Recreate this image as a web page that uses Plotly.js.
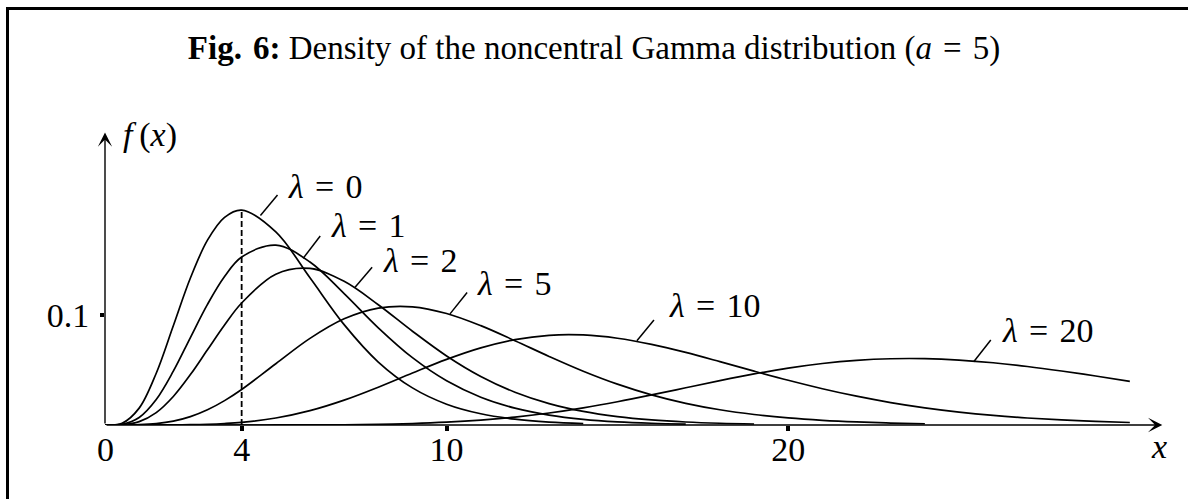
<!DOCTYPE html>
<html>
<head>
<meta charset="utf-8">
<script src="https://cdn.plot.ly/plotly-3.0.1.min.js"></script>
<style>
  html, body { margin: 0; padding: 0; background: #fff; }
  #frame { position: absolute; left: 6px; top: 7px; width: 1300px; height: 600px;
           border-top: 3px solid #000; border-left: 3px solid #000; pointer-events: none; z-index: 5; }
  #chart { position: absolute; left: 0; top: 0; width: 1188px; height: 499px; }
</style>
</head>
<body>
<div id="chart"></div>
<div id="frame"></div>
<script>
// Density f(x) of the noncentral Gamma distribution, shape a = 5,
// sampled on xGrid (half steps near the origin) for each noncentrality λ.
const xGrid = [0, 0.5, 1, 1.5, 2, 2.5, 3, 3.5, 4, 5, 6, 7, 8, 9, 10, 11, 12, 13, 14, 15,
  16, 17, 18, 19, 20, 21, 22, 23, 24, 25, 26, 27, 28, 29, 30];

const lam0 = [0, 0.00158, 0.01533, 0.04707, 0.09022, 0.13360, 0.16803, 0.18881, 0.19537,
  0.17547, 0.13385, 0.09123, 0.05725, 0.03374, 0.01892, 0.01019, 0.00531, 0.00269, 0.00133];
const lam1 = [0, 0.00064, 0.00687, 0.02321, 0.04891, 0.07950, 0.10963, 0.13491, 0.15268,
  0.16352, 0.14814, 0.11944, 0.08836, 0.06118, 0.04018, 0.02528, 0.01534, 0.00903, 0.00518,
  0.00290, 0.00160, 0.00086];
const lam2 = [0, 0.00026, 0.00306, 0.01130, 0.02594, 0.04580, 0.06841, 0.09094, 0.11093,
  0.13711, 0.14230, 0.13059, 0.10935, 0.08527, 0.06276, 0.04411, 0.02979, 0.01945, 0.01233,
  0.00762, 0.00461, 0.00273, 0.00159, 0.00091];
const lam5 = [0, 0.00002, 0.00026, 0.00123, 0.00351, 0.00762, 0.01385, 0.02217, 0.03229,
  0.05568, 0.07873, 0.09655, 0.10629, 0.10747, 0.10140, 0.09032, 0.07663, 0.06234, 0.04889,
  0.03713, 0.02740, 0.01970, 0.01385, 0.00953, 0.00643, 0.00426, 0.00278, 0.00179, 0.00113];
const lam10 = [0, 0, 0.000004, 0.000026, 0.00010, 0.00029, 0.00067, 0.00135, 0.00244,
  0.00634, 0.01302, 0.02258, 0.03439, 0.04725, 0.05964, 0.07013, 0.07763, 0.08156, 0.08185,
  0.07888, 0.07331, 0.06596, 0.05762, 0.04900, 0.04066, 0.03298, 0.02620, 0.02042, 0.01563,
  0.01176, 0.00871, 0.00636, 0.00458, 0.00325, 0.00228];
const lam20 = [0, 0, 0, 0, 0, 0.0000002, 0.0000007, 0.000002, 0.0000053, 0.000025, 0.000089,
  0.00025, 0.00062, 0.00132, 0.00254, 0.00445, 0.00722, 0.01093, 0.01561, 0.02115, 0.02733,
  0.03385, 0.04033, 0.04640, 0.05168, 0.05588, 0.05877, 0.06025, 0.06031, 0.05904, 0.05660,
  0.05321, 0.04910, 0.04452, 0.03970];

const lambdas = [0, 1, 2, 5, 10, 20];
const densities = [lam0, lam1, lam2, lam5, lam10, lam20];

const xTicks = [4, 10, 20];
const xTickText = ['4', '10', '20'];
const yTicks = [0.1];
const yTickText = ['0.1'];
const modeX = 4;   // mode of the central density (λ = 0)

// label placement: text centre and leader line (data units)
const labelPlacement = [
  { tx: 6.45,  ty: 0.2165, x0: 4.55,  y0: 0.1905, x1: 5.05,  y1: 0.2090 },
  { tx: 7.70,  ty: 0.1810, x0: 5.80,  y0: 0.1515, x1: 6.30,  y1: 0.1718 },
  { tx: 9.25,  ty: 0.1500, x0: 7.32,  y0: 0.1252, x1: 7.82,  y1: 0.1435 },
  { tx: 12.00, ty: 0.1290, x0: 10.10, y0: 0.1010, x1: 10.60, y1: 0.1205 },
  { tx: 17.85, ty: 0.1090, x0: 15.57, y0: 0.0766, x1: 16.07, y1: 0.0955 },
  { tx: 27.60, ty: 0.0855, x0: 25.43, y0: 0.0575, x1: 25.93, y1: 0.0773 }
];

const serif = 'Liberation Serif, Times New Roman, serif';
const ink = '#000';
const gap = '\u2004';   // wider spacing around "=" as in math typesetting

const traces = densities.map((ys, i) => ({
  type: 'scatter',
  mode: 'lines',
  x: xGrid.slice(0, ys.length),
  y: ys,
  line: { color: ink, width: 1.7, shape: 'spline', smoothing: 1 },
  hoverinfo: 'skip',
  showlegend: false,
  name: 'λ = ' + lambdas[i]
}));

// dashed guide at the mode of the λ = 0 density
const modeIdx = xGrid.indexOf(modeX);
traces.push({
  type: 'scatter', mode: 'lines',
  x: [modeX, modeX], y: [0, lam0[modeIdx]],
  line: { color: ink, width: 1.8, dash: '6px,3px' },
  hoverinfo: 'skip', showlegend: false
});

const annotations = [];
const shapes = [];

labelPlacement.forEach((p, i) => {
  annotations.push({
    x: p.tx, y: p.ty, xref: 'x', yref: 'y', showarrow: false,
    text: '<i>λ</i>' + gap + '=' + gap + lambdas[i],
    font: { family: serif, size: 34, color: ink },
    xanchor: 'center', yanchor: 'middle'
  });
  shapes.push({
    type: 'line', xref: 'x', yref: 'y',
    x0: p.x0, y0: p.y0, x1: p.x1, y1: p.y1,
    line: { color: ink, width: 1.5 }
  });
});

// axes with arrow heads
annotations.push({
  x: 30.95, y: 0, ax: 0, ay: 0, xref: 'x', yref: 'y', axref: 'x', ayref: 'y',
  showarrow: true, arrowhead: 3, arrowsize: 1.7, arrowwidth: 1.4, arrowcolor: ink, text: ''
});
annotations.push({
  x: 0, y: 0.266, ax: 0, ay: 0, xref: 'x', yref: 'y', axref: 'x', ayref: 'y',
  showarrow: true, arrowhead: 3, arrowsize: 1.7, arrowwidth: 1.4, arrowcolor: ink, text: ''
});
// origin label
annotations.push({
  x: 0, y: 0, xref: 'x', yref: 'y', showarrow: false, text: '0',
  font: { family: serif, size: 34, color: ink },
  xanchor: 'center', yanchor: 'middle', yshift: -24
});
// axis names
annotations.push({
  x: 0, y: 0.266, xref: 'x', yref: 'y', showarrow: false,
  text: '<i>f</i>\u2009(<i>x</i>)', font: { family: serif, size: 34, color: ink },
  xanchor: 'left', yanchor: 'middle', xshift: 16, yshift: -3
});
annotations.push({
  x: 30.85, y: 0, xref: 'x', yref: 'y', showarrow: false,
  text: '<i>x</i>', font: { family: serif, size: 34, color: ink },
  xanchor: 'center', yanchor: 'middle', yshift: -21
});

const titleText = '<b>Fig.\u20046:</b> Density of the noncentral Gamma distribution (<i>a</i>' +
  gap + '=' + gap + '5)';

const layout = {
  width: 1188, height: 499,
  margin: { l: 105, r: 24, t: 128, b: 74 },
  paper_bgcolor: '#fff', plot_bgcolor: '#fff',
  title: {
    text: titleText,
    font: { family: serif, size: 33, color: ink },
    xref: 'container', yref: 'container', x: 0.5, y: 0.904,
    xanchor: 'center', yanchor: 'middle'
  },
  xaxis: {
    range: [0, 31], showgrid: false, zeroline: false, showline: false,
    tickmode: 'array', tickvals: xTicks, ticktext: xTickText,
    ticks: 'outside', ticklen: 5, tickwidth: 4, tickcolor: ink,
    ticklabelstandoff: -11,
    tickfont: { family: serif, size: 34, color: ink }, fixedrange: true
  },
  yaxis: {
    range: [0, 0.27], showgrid: false, zeroline: false, showline: false,
    tickmode: 'array', tickvals: yTicks, ticktext: yTickText,
    ticks: 'outside', ticklen: 4, tickwidth: 4, tickcolor: ink,
    ticklabelstandoff: 4,
    tickfont: { family: serif, size: 34, color: ink }, fixedrange: true
  },
  annotations: annotations,
  shapes: shapes,
  showlegend: false
};

Plotly.newPlot('chart', traces, layout, { staticPlot: true, displayModeBar: false });
</script>
</body>
</html>
